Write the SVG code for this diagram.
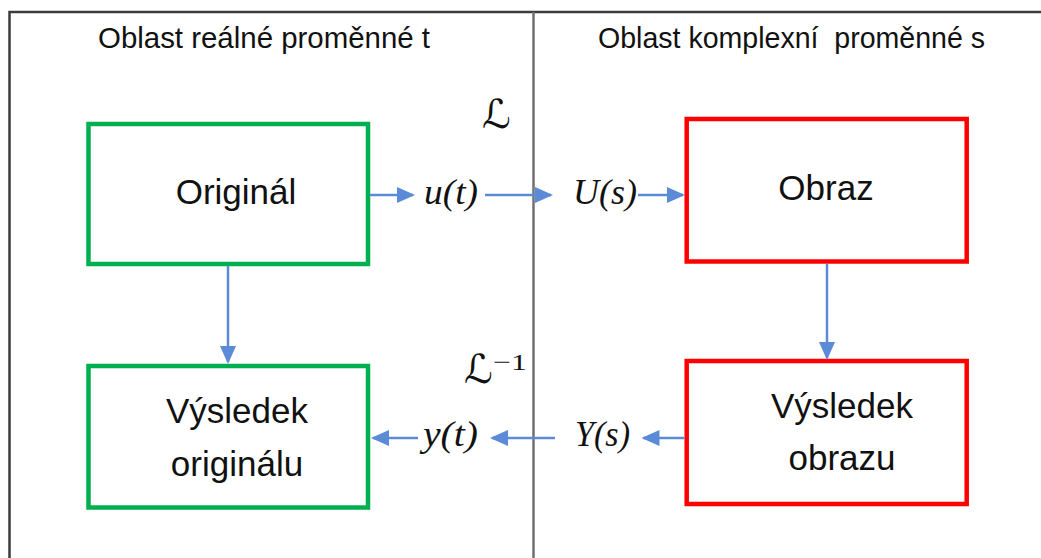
<svg xmlns="http://www.w3.org/2000/svg" width="1041" height="558" viewBox="0 0 1041 558">
  <style>
    .frame { stroke: #3c3c3c; stroke-width: 2.5; fill: none; }
    .divider { stroke: #707070; stroke-width: 2.5; fill: none; }
    .orig { fill: #ffffff; stroke: #00b050; stroke-width: 4.5; }
    .img { fill: #ffffff; stroke: #ff0000; stroke-width: 4.5; }
    .label { font-family: "Liberation Sans", Arial, sans-serif; font-size: 35px; fill: #111111; text-anchor: middle; }
    .head { font-family: "Liberation Sans", Arial, sans-serif; font-size: 29px; fill: #111111; }
    .math { font-family: "Liberation Serif", "Times New Roman", serif; font-style: italic; font-size: 36px; fill: #111111; }
    .op { font-family: "DejaVu Serif", "DejaVu Sans", serif; font-size: 40px; fill: #111111; }
    .sup { font-family: "Liberation Serif", "Times New Roman", serif; font-size: 24px; fill: #111111; }
    .conn { stroke: #5b8bd6; stroke-width: 2.5; fill: none; marker-end: url(#arrow); }
  </style>
  <defs>
    <marker id="arrow" markerUnits="userSpaceOnUse" markerWidth="18" markerHeight="16" refX="16" refY="8" orient="auto">
      <path d="M0,0 L18,8 L0,16 Z" fill="#5b8bd6"/>
    </marker>
  </defs>

  <rect width="1041" height="558" fill="#ffffff"/>

  <!-- frame and the dividing line between the two domains -->
  <g id="frame">
    <path class="frame" d="M9.5,558 V12 H1041"/>
    <path class="divider" d="M533.5,12 V558"/>
    <text class="head" x="98" y="48" textLength="332" lengthAdjust="spacingAndGlyphs">Oblast reálné proměnné t</text>
    <text class="head" x="598" y="48" textLength="387" lengthAdjust="spacingAndGlyphs" xml:space="preserve">Oblast komplexní  proměnné s</text>
  </g>

  <!-- nodes -->
  <g id="original">
    <rect class="orig" x="88.5" y="124" width="279.5" height="140"/>
    <text class="label" x="236" y="204">Originál</text>
  </g>
  <g id="original-result">
    <rect class="orig" x="88.5" y="366" width="279.5" height="141.5"/>
    <text class="label" x="237" y="423">Výsledek</text>
    <text class="label" x="237" y="476">originálu</text>
  </g>
  <g id="image">
    <rect class="img" x="686.7" y="119" width="280" height="142.5"/>
    <text class="label" x="826" y="200">Obraz</text>
  </g>
  <g id="image-result">
    <rect class="img" x="686.7" y="361" width="280" height="143"/>
    <text class="label" x="842" y="418">Výsledek</text>
    <text class="label" x="842" y="470">obrazu</text>
  </g>

  <!-- signal labels and transform symbols -->
  <g id="labels">
    <text class="math" x="424" y="204" textLength="54" lengthAdjust="spacingAndGlyphs">u(t)</text>
    <text class="math" x="573" y="204" textLength="64" lengthAdjust="spacingAndGlyphs">U(s)</text>
    <text class="math" x="423" y="446" textLength="55" lengthAdjust="spacingAndGlyphs">y(t)</text>
    <text class="math" x="575" y="446" textLength="55" lengthAdjust="spacingAndGlyphs">Y(s)</text>
    <text class="op" x="482" y="128">ℒ</text>
    <text class="op" x="464" y="383">ℒ</text>
    <text class="sup" x="493" y="370" textLength="34" lengthAdjust="spacingAndGlyphs">−1</text>
  </g>

  <!-- connectors -->
  <g id="connectors">
    <path class="conn" d="M370,195 H413"/>
    <path class="conn" d="M485,195 H551"/>
    <path class="conn" d="M638,195 H683"/>
    <path class="conn" d="M827,264 V358"/>
    <path class="conn" d="M228,266 V362"/>
    <path class="conn" d="M684.5,438 H643.5"/>
    <path class="conn" d="M555,438 H492"/>
    <path class="conn" d="M418,438 H373"/>
  </g>
</svg>
